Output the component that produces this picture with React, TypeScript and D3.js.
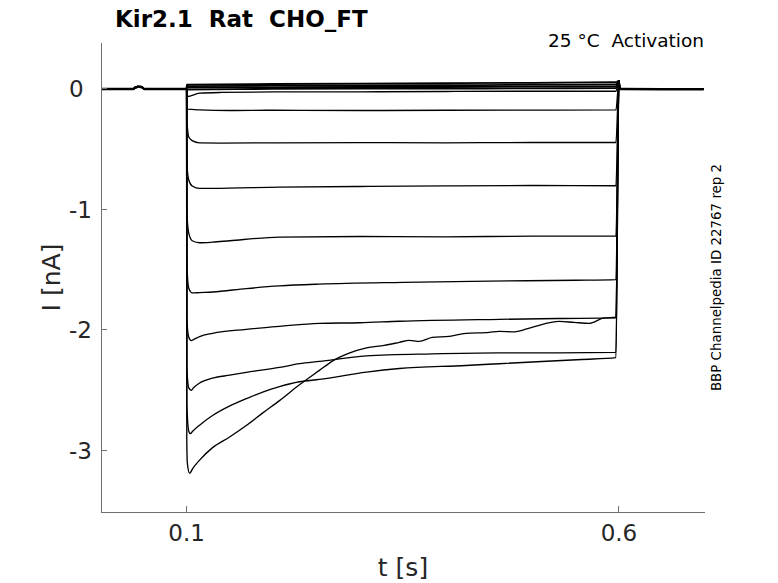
import * as d3 from 'd3';
import React from 'react';

const TITLE = 'Kir2.1  Rat  CHO_FT';
const CONDITION = '25 °C  Activation';
const SIDE_NOTE = 'BBP Channelpedia ID 22767 rep 2';
const X_LABEL = 't [s]';
const Y_LABEL = 'I [nA]';

const xTicks = [0.1, 0.6];
const yTicks = [0, -1, -2, -3];

type Pt = [number, number];

// holding level before the step, shared by every sweep
const holding: Pt[] = [
    [0.001, -0.002], [0.038, -0.002], [0.041, 0.012], [0.044, 0.017],
    [0.048, 0.015], [0.051, -0.002], [0.1, -0.002],
];
// back to holding after the step
const tail: Pt[] = [
    [0.6, 0.066], [0.6008, 0.004], [0.603, -0.002], [0.65, -0.003], [0.698, -0.003],
];

// current during the step, one array per sweep (t in s, I in nA)
const sweepA: Pt[] = [[0.1002, 0.035], [0.2, 0.04], [0.3, 0.043], [0.4, 0.046], [0.5, 0.05], [0.5965, 0.055]];
const sweepB: Pt[] = [[0.1002, 0.022], [0.2, 0.026], [0.3, 0.029], [0.4, 0.03], [0.5, 0.034], [0.5965, 0.036]];
const sweepC: Pt[] = [[0.1002, 0.01], [0.2, 0.012], [0.3, 0.015], [0.4, 0.015], [0.5, 0.019], [0.5965, 0.021]];
const sweepD: Pt[] = [[0.1002, -0.006], [0.2, 0.0], [0.3, 0.002], [0.4, 0.001], [0.5, 0.004], [0.5965, 0.006]];
const sweepE: Pt[] = [
    [0.1002, -0.05], [0.1008, -0.064], [0.115, -0.036], [0.14, -0.03], [0.2, -0.026],
    [0.3, -0.025], [0.4, -0.022], [0.5, -0.02], [0.5965, -0.02],
];
const sweepF: Pt[] = [
    [0.1002, -0.15], [0.1008, -0.169], [0.115, -0.175], [0.15, -0.18], [0.2, -0.178],
    [0.3, -0.18], [0.4, -0.178], [0.5, -0.177], [0.5965, -0.175],
];
const sweepG: Pt[] = [
    [0.1002, -0.25], [0.1008, -0.31], [0.1025, -0.4], [0.1065, -0.43], [0.115, -0.449],
    [0.14, -0.45], [0.2, -0.448], [0.3, -0.446], [0.4, -0.448], [0.5, -0.445], [0.5965, -0.445],
];
const sweepH: Pt[] = [
    [0.1002, -0.55], [0.1008, -0.67], [0.1025, -0.756], [0.1065, -0.806], [0.115, -0.826],
    [0.13, -0.826], [0.2074, -0.815], [0.3, -0.81], [0.4, -0.805], [0.5, -0.802], [0.5965, -0.804],
];
const sweepI: Pt[] = [
    [0.1002, -0.95], [0.1008, -1.089], [0.1025, -1.197], [0.1065, -1.26], [0.115, -1.277],
    [0.13, -1.272], [0.15, -1.26], [0.2074, -1.23], [0.3, -1.225], [0.4, -1.228],
    [0.5, -1.222], [0.5965, -1.222],
];
const sweepJ: Pt[] = [
    [0.1002, -1.4], [0.1008, -1.53], [0.1025, -1.654], [0.1065, -1.693], [0.115, -1.69],
    [0.13, -1.685], [0.169, -1.657], [0.2074, -1.635], [0.2536, -1.62], [0.35, -1.605],
    [0.45, -1.595], [0.55, -1.588], [0.5965, -1.582],
];
const sweepK: Pt[] = [
    [0.1002, -1.9], [0.1025, -2.06], [0.1054, -2.088], [0.108, -2.08], [0.115, -2.055],
    [0.13, -2.028], [0.169, -1.995], [0.2074, -1.97], [0.2536, -1.945], [0.3, -1.94],
    [0.346, -1.928], [0.4614, -1.912], [0.53, -1.905], [0.5965, -1.9],
];
const sweepL: Pt[] = [
    [0.1002, -2.3], [0.1025, -2.48], [0.1054, -2.5], [0.108, -2.48], [0.115, -2.44],
    [0.13, -2.4], [0.15, -2.375], [0.169, -2.352], [0.2074, -2.311], [0.2305, -2.28],
    [0.2536, -2.261], [0.308, -2.215], [0.384, -2.198], [0.4614, -2.19], [0.53, -2.19],
    [0.5965, -2.186],
];
const sweepM: Pt[] = [
    [0.1002, -2.6], [0.1025, -2.84], [0.1042, -2.86], [0.107, -2.84], [0.115, -2.79],
    [0.13, -2.71], [0.15, -2.63], [0.169, -2.57], [0.188, -2.515], [0.2074, -2.47],
    [0.2305, -2.43], [0.2536, -2.41], [0.308, -2.35], [0.346, -2.32], [0.423, -2.295],
    [0.4614, -2.28], [0.557, -2.245], [0.5965, -2.23],
];
const sweepN: Pt[] = [
    [0.1002, -2.9], [0.1008, -3.1], [0.1035, -3.19], [0.107, -3.15], [0.115, -3.08],
    [0.13, -2.976], [0.1497, -2.888], [0.169, -2.793], [0.1878, -2.69], [0.2074, -2.586],
    [0.2305, -2.455], [0.2536, -2.335], [0.2686, -2.258], [0.288, -2.192], [0.308, -2.148],
    [0.3286, -2.128], [0.346, -2.103], [0.3575, -2.086], [0.369, -2.095], [0.384, -2.062],
    [0.4037, -2.053], [0.423, -2.028], [0.4499, -2.02], [0.4614, -2.012], [0.4788, -2.016],
    [0.4995, -1.978], [0.531, -1.929], [0.548, -1.937], [0.5655, -1.945], [0.583, -1.9],
    [0.5965, -1.895],
];

const sweeps = [
    sweepA, sweepB, sweepC, sweepD, sweepE, sweepF, sweepG,
    sweepH, sweepI, sweepJ, sweepK, sweepL, sweepM, sweepN,
];

const W = 778;
const H = 583;
const left = 101;
const right = 705;
const top = 43;
const bottom = 512;
const textColor = '#262626';
const axisColor = '#707070';
const font = '"DejaVu Sans", sans-serif';

export default function App() {
    const x = d3.scaleLinear().domain([0.001, 0.6995]).range([left, right]);
    const y = d3.scaleLinear().domain([-3.51, 0.38]).range([bottom, top]);

    const line = d3
        .line<Pt>()
        .x((d) => x(d[0]))
        .y((d) => y(d[1]))
        .curve(d3.curveMonotoneX);

    const pre = { whiteSpace: 'pre' as const };

    return (
        <svg
            width={W}
            height={H}
            style={{ position: 'absolute', left: 0, top: 0, background: '#fff' }}
            fontFamily={font}
        >
            <rect width={W} height={H} fill="#fff" />

            {/* traces */}
            <g fill="none" stroke="#000" strokeLinejoin="round">
                {sweeps.map((s, i) => (
                    <path
                        key={i}
                        d={line([...holding, ...s, ...tail]) || ''}
                        strokeWidth={i < 4 ? 1.8 : 1.35}
                    />
                ))}
                <path d={line(holding) || ''} strokeWidth={2.4} />
                <path d={line(tail.slice(1)) || ''} strokeWidth={2.4} />
            </g>

            {/* axes */}
            <g stroke={axisColor} strokeWidth={1} shapeRendering="crispEdges">
                <line x1={left} x2={left} y1={top} y2={bottom} />
                <line x1={left} x2={right} y1={bottom} y2={bottom} />
                {xTicks.map((t) => (
                    <line key={t} x1={x(t)} x2={x(t)} y1={bottom} y2={bottom - 6} />
                ))}
                {yTicks.map((t) => (
                    <line key={t} x1={left} x2={left + 6} y1={y(t)} y2={y(t)} />
                ))}
            </g>

            <g fill={textColor} fontSize={23}>
                {xTicks.map((t) => (
                    <text key={t} x={x(t)} y={541} textAnchor="middle">
                        {String(t)}
                    </text>
                ))}
                {yTicks.map((t) => (
                    <text key={t} x={69} y={y(t)} dy="0.36em" textAnchor="start">
                        {String(t)}
                    </text>
                ))}
            </g>

            <text x={(left + right) / 2} y={576} textAnchor="middle" fontSize={25} fill={textColor}>
                {X_LABEL}
            </text>
            <text
                transform={`translate(60, ${(top + bottom) / 2}) rotate(-90)`}
                textAnchor="middle"
                fontSize={25}
                fill={textColor}
            >
                {Y_LABEL}
            </text>

            <text x={115} y={26.5} fontSize={23} fontWeight="bold" fill="#000" style={pre}>
                {TITLE}
            </text>
            <text x={704} y={47} textAnchor="end" fontSize={18.5} fill="#000" style={pre}>
                {CONDITION}
            </text>
            <text
                transform={`translate(721, ${(top + bottom) / 2}) rotate(-90)`}
                textAnchor="middle"
                fontSize={13.4}
                fill="#000"
            >
                {SIDE_NOTE}
            </text>
        </svg>
    );
}
